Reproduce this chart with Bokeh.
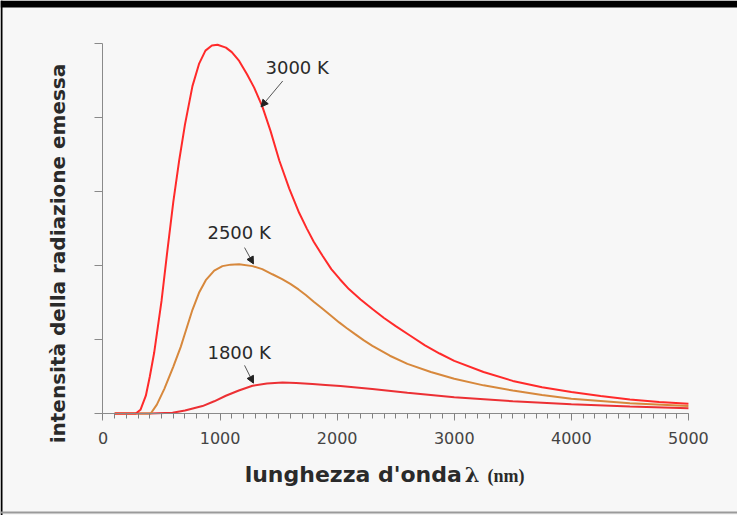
import math
from bokeh.plotting import figure
from bokeh.models import (Range1d, SingleIntervalTicker, Label, Arrow, NormalHead,
                          BoxAnnotation, CustomJSTickFormatter)
from bokeh.embed import file_html
from bokeh.resources import INLINE

# ---- data (y in axis-tick units 0..5) ----
lam_3000 = [100, 200, 280, 320, 366, 400, 437, 500, 550, 600, 651, 700, 764, 820, 875,
            930, 978, 1050, 1100, 1163, 1230, 1291, 1362, 1430, 1505, 1590, 1675, 1740,
            1800, 1875, 1950, 2025, 2100, 2200, 2301, 2400, 2500, 2625, 2750, 2875, 3000,
            3250, 3500, 3750, 4000, 4250, 4500, 4750, 5000]
int_3000 = [0, 0, 0, 0.05, 0.24, 0.50, 0.82, 1.52, 2.20, 2.85, 3.42, 3.90, 4.42, 4.72, 4.90,
            4.97, 4.98, 4.94, 4.88, 4.76, 4.58, 4.40, 4.14, 3.82, 3.42, 3.04, 2.71, 2.50,
            2.32, 2.13, 1.95, 1.81, 1.68, 1.54, 1.41, 1.29, 1.18, 1.05, 0.92, 0.81, 0.71,
            0.56, 0.44, 0.355, 0.29, 0.235, 0.19, 0.155, 0.13]

lam_2500 = [100, 200, 300, 408, 460, 523, 600, 664, 700, 764, 820, 878, 950, 1020, 1090,
            1163, 1277, 1360, 1447, 1530, 1600, 1670, 1732, 1800, 1870, 1940, 2017, 2080,
            2150, 2225, 2301, 2450, 2600, 2800, 3000, 3250, 3500, 3750, 4000, 4500, 5000]
int_2500 = [0, 0, 0, 0, 0.12, 0.33, 0.63, 0.90, 1.08, 1.40, 1.63, 1.80, 1.93, 1.99, 2.01,
            2.015, 1.99, 1.95, 1.88, 1.815, 1.75, 1.675, 1.60, 1.51, 1.42, 1.33, 1.23, 1.155,
            1.075, 0.99, 0.914, 0.78, 0.67, 0.56, 0.47, 0.38, 0.31, 0.25, 0.20, 0.14, 0.10]

lam_1800 = [100, 200, 400, 594, 700, 850, 950, 1049, 1160, 1277, 1400, 1533, 1650, 1789,
            1900, 2028, 2300, 2600, 3000, 3500, 4000, 4500, 5000]
int_1800 = [0, 0, 0, 0.01, 0.04, 0.10, 0.165, 0.24, 0.31, 0.374, 0.405, 0.418, 0.412, 0.398,
            0.385, 0.370, 0.33, 0.28, 0.22, 0.165, 0.125, 0.095, 0.07]

curve_labels = ["3000 K", "2500 K", "1800 K"]
y_title = "intensità della radiazione emessa"
x_title_parts = ["lunghezza d'onda", "λ", "(nm)"]

W, H = 737, 515
X0, X1 = -875.3, 5419.0      # visible span of the canvas in wavelength units
Y0, Y1 = -1.3773, 5.5766     # visible span of the canvas in intensity units
PX = (X1 - X0) / W
PY = (Y1 - Y0) / H

p = figure(width=W, height=H, output_backend="svg", toolbar_location=None,
           x_range=Range1d(X0, X1), y_range=Range1d(Y0, Y1), min_border=0)
p.background_fill_color = "#f7f7f7"
p.border_fill_color = "#f7f7f7"
p.outline_line_color = None
p.grid.grid_line_color = None

xa = p.xaxis[0]
xa.fixed_location = 0
xa.bounds = (0, 5000)
xa.ticker = SingleIntervalTicker(interval=1000, num_minor_ticks=10)
xa.axis_line_color = "#8a8a8a"
xa.major_tick_line_color = "#8a8a8a"
xa.minor_tick_line_color = "#808080"
xa.major_tick_in = 0
xa.major_tick_out = 7
xa.minor_tick_in = 0
xa.minor_tick_out = 5
xa.major_label_text_font = "DejaVu Sans"
xa.major_label_text_font_size = "16px"
xa.major_label_text_color = "#444444"
xa.major_label_standoff = 12

ya = p.yaxis[0]
ya.fixed_location = 0
ya.bounds = (0, 5)
ya.ticker = SingleIntervalTicker(interval=1, num_minor_ticks=0)
ya.formatter = CustomJSTickFormatter(code="return ''")
ya.axis_line_color = "#8a8a8a"
ya.major_tick_line_color = "#8a8a8a"
ya.minor_tick_line_color = None
ya.major_tick_in = 0
ya.major_tick_out = 8

p.line(lam_1800, int_1800, line_color="#ec3034", line_width=2)
p.line(lam_2500, int_2500, line_color="#d7883c", line_width=2)
p.line(lam_3000, int_3000, line_color="#ff2a2a", line_width=2)

# curve labels with arrows
lab_pos = [(1388, 4.672), (892, 2.444), (892, 0.824)]
arr_pos = [((1535, 4.49), (1350, 4.14)), ((1209, 2.24), (1285, 2.02)),
           ((1209, 0.65), (1285, 0.41))]
for t, (lx, ly), ((x0, y0), (x1, y1)) in zip(curve_labels, lab_pos, arr_pos):
    p.add_layout(Label(x=lx, y=ly, text=t, text_font="DejaVu Sans", text_font_size="18px",
                       text_color="#2a2a2a", text_align="left", text_baseline="alphabetic"))
    p.add_layout(Arrow(x_start=x0, y_start=y0, x_end=x1, y_end=y1, line_color="#555555",
                       line_width=1, end=NormalHead(size=7, fill_color="#222222",
                                                    line_color="#222222")))

# axis titles
p.add_layout(Label(x=-380, y=2.16, text=y_title, angle=math.pi / 2, text_font="DejaVu Sans",
                   text_font_style="bold", text_font_size="20px", text_color="#2a2a2a",
                   text_align="center", text_baseline="middle"))
p.add_layout(Label(x=1210, y=-0.824, text=x_title_parts[0], text_font="DejaVu Sans",
                   text_font_style="bold", text_font_size="22px", text_color="#2a2a2a",
                   text_align="left", text_baseline="alphabetic"))
p.add_layout(Label(x=3090, y=-0.824, text=x_title_parts[1], text_font="DejaVu Serif",
                   text_font_style="bold", text_font_size="21px", text_color="#2a2a2a",
                   text_align="left", text_baseline="alphabetic"))
p.add_layout(Label(x=3284, y=-0.85, text=x_title_parts[2], text_font="Liberation Serif",
                   text_font_style="bold", text_font_size="18px", text_color="#2a2a2a",
                   text_align="left", text_baseline="alphabetic"))

# frame borders of the picture (canvas pixels converted to data units)
for (l, r, t, b, c) in [(0, W, 0, 7, "black"), (0, 2, 0, H, "black"),
                        (0, W, 511, 513, "#9a9a9a")]:
    p.add_layout(BoxAnnotation(left=X0 + l * PX, right=X0 + r * PX,
                               top=Y1 - t * PY, bottom=Y1 - b * PY,
                               fill_color=c, fill_alpha=1, line_color=None))

open("out.html", "w").write(file_html(p, INLINE))
